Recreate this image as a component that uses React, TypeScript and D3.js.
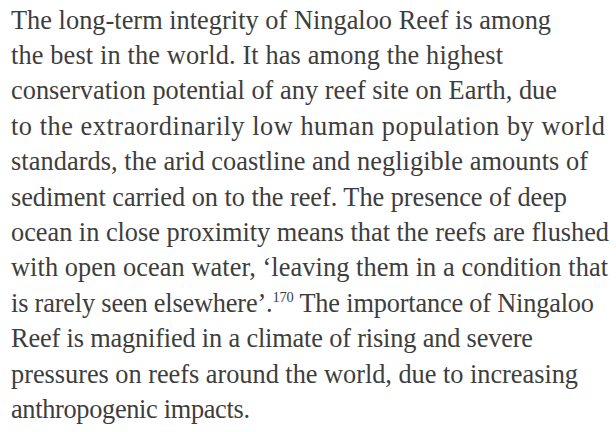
import React, { useMemo } from "react";
import * as d3 from "d3";

const lines: string[][] = [
  ["The long-term integrity of Ningaloo Reef is among"],
  ["the best in the world. It has among the highest"],
  ["conservation potential of any reef site on Earth, due"],
  ["to the extraordinarily low human population by world"],
  ["standards, the arid coastline and negligible amounts of"],
  ["sediment carried on to the reef. The presence of deep"],
  ["ocean in close proximity means that the reefs are flushed"],
  ["with open ocean water, \u2018leaving them in a condition that"],
  ["is rarely seen elsewhere\u2019.", "170", " The importance of Ningaloo"],
  ["Reef is magnified in a climate of rising and severe"],
  ["pressures on reefs around the world, due to increasing"],
  ["anthropogenic impacts."],
];

const lineEnds: number[] = [551, 503, 557, 605, 588, 567, 609, 608, 594, 533, 578, 250];

const W = 616;
const H = 432;
const LEFT = 11;
const FONT = "'Liberation Serif', 'DejaVu Serif', serif";

export default function App() {
  const y = d3.scaleLinear().domain([0, lines.length - 1]).range([28.5, 418]);

  const fontSize = useMemo(() => {
    const canvas = document.createElement("canvas");
    const ctx = canvas.getContext("2d");
    if (!ctx) return 25;
    ctx.font = `100px ${FONT}`;
    const ratios = lines.map((parts, i) => {
      const txt = parts.length === 1 ? parts[0] : parts[0] + parts[2];
      const sup = parts.length === 1 ? 0 : ctx.measureText(parts[1]).width * 0.55;
      const w = ctx.measureText(txt).width + sup;
      return ((lineEnds[i] - LEFT) / w) * 100;
    });
    const med = d3.median(ratios) ?? 25;
    return Math.max(20, Math.min(28, med));
  }, []);

  return (
    <svg
      width={W}
      height={H}
      style={{ position: "fixed", left: 0, top: 0, background: "#fff" }}
    >
      <rect width={W} height={H} fill="#fff" />
      {lines.map((parts, i) => (
        <text
          key={i}
          x={LEFT}
          y={y(i)}
          fontFamily={FONT}
          fontSize={fontSize}
          fill="#3d3d3d"
          textLength={lineEnds[i] - LEFT}
          lengthAdjust="spacing"
        >
          {parts.length === 1
            ? parts[0]
            : [
                <tspan key="a">{parts[0]}</tspan>,
                <tspan key="b" fontSize={fontSize * 0.55} dy={-fontSize * 0.38}>
                  {parts[1]}
                </tspan>,
                <tspan key="c" dy={fontSize * 0.38}>
                  {parts[2]}
                </tspan>,
              ]}
        </text>
      ))}
    </svg>
  );
}
